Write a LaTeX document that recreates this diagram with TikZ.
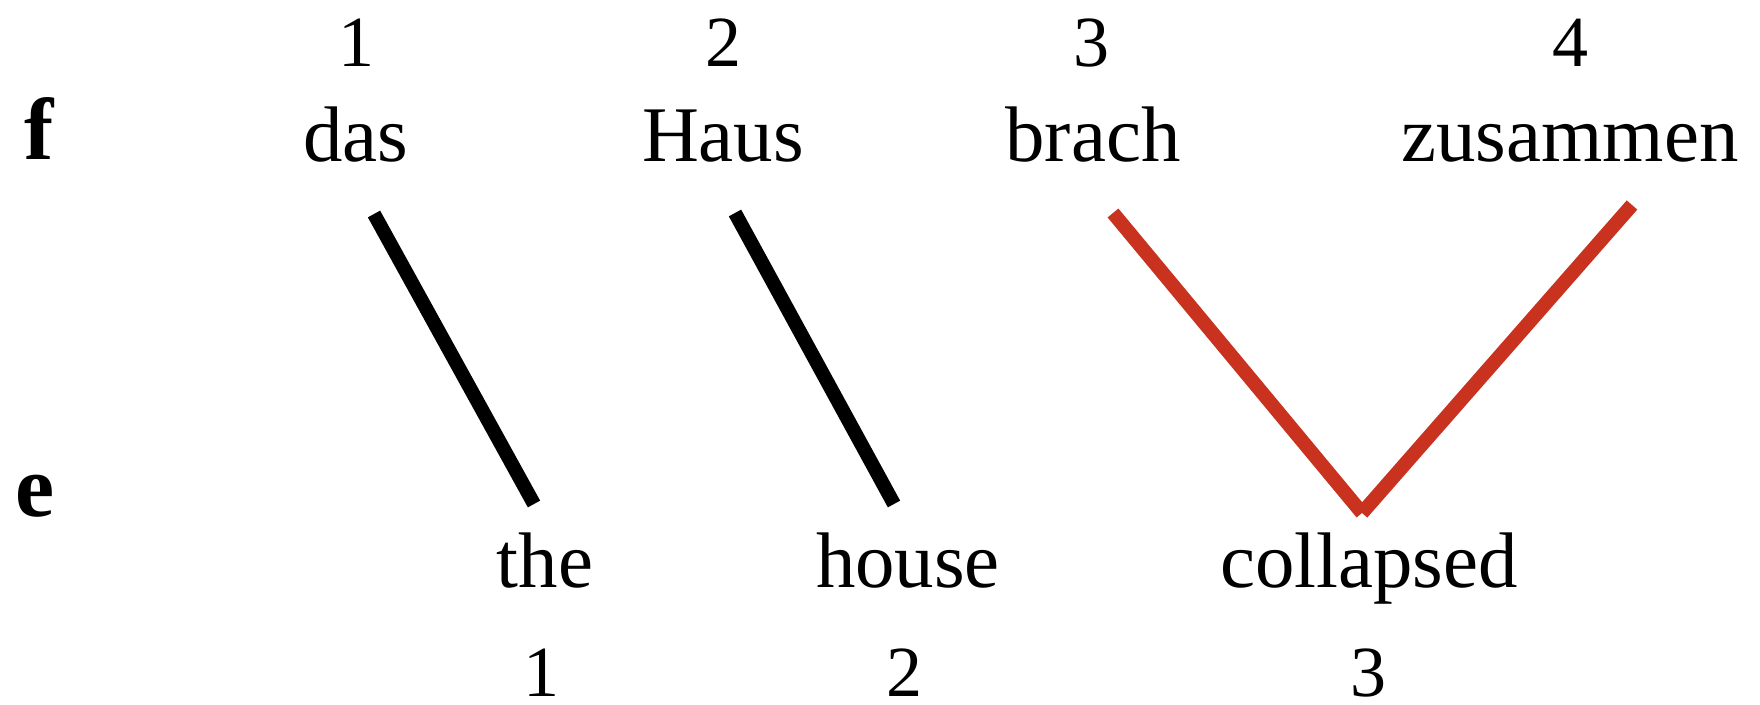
\documentclass[tikz,border=0pt]{standalone}
\usepackage{fontspec}
\setmainfont{Liberation Serif}
\definecolor{rojo}{RGB}{200,50,30}
\begin{document}
\begin{tikzpicture}[x=0.25pt, y=-0.25pt, line width=3.5pt,
  palabra/.style={anchor=base, inner sep=0pt, font=\fontsize{19.7}{24}\selectfont},
  numero/.style={anchor=base, inner sep=0pt, font=\fontsize{18}{22}\selectfont},
  lengua/.style={anchor=base, inner sep=0pt, font=\fontsize{22}{26}\selectfont\bfseries}]
  \useasboundingbox (0,0) rectangle (1760,705);
  % frase f
  \node[lengua] (f) at (39,160) {f};
  \node[numero] (f1) at (357,67) {1};
  \node[numero] (f2) at (723,67) {2};
  \node[numero] (f3) at (1091,67) {3};
  \node[numero] (f4) at (1570,67) {4};
  \node[palabra] (das) at (356,162) {das};
  \node[palabra] (haus) at (723,162) {Haus};
  \node[palabra] (brach) at (1093,162) {brach};
  \node[palabra] (zusammen) at (1570,162) {zusammen};
  % frase e
  \node[lengua] (e) at (35,517) {e};
  \node[palabra] (the) at (545,588) {the};
  \node[palabra] (house) at (908,588) {house};
  \node[palabra] (collapsed) at (1369,588) {collapsed};
  \node[numero] (e1) at (541,697) {1};
  \node[numero] (e2) at (904,697) {2};
  \node[numero] (e3) at (1368,697) {3};
  % extremos de las lineas
  \coordinate (das-b) at (374,214);
  \coordinate (the-t) at (534,504);
  \coordinate (haus-b) at (735,213);
  \coordinate (house-t) at (894,504);
  \coordinate (brach-b) at (1113,213);
  \coordinate (zus-b) at (1632,205);
  \coordinate (coll-t) at (1362,513);
  % alineamientos
  \draw (das-b) -- (the-t);
  \draw (haus-b) -- (house-t);
  \draw[rojo] (brach-b) -- (coll-t);
  \draw[rojo] (zus-b) -- (coll-t);
\end{tikzpicture}
\end{document}
